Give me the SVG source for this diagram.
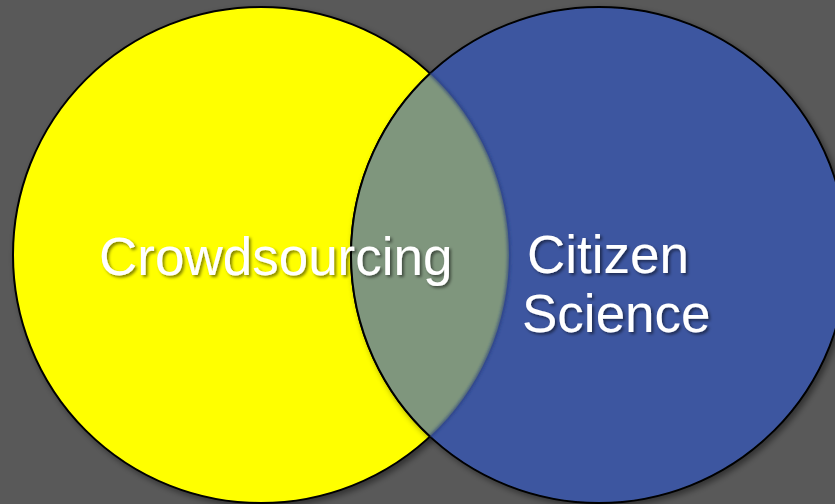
<svg xmlns="http://www.w3.org/2000/svg" width="835" height="504" viewBox="0 0 835 504">
  <defs>
    <filter id="shadow" x="-10%" y="-10%" width="130%" height="130%">
      <feDropShadow dx="3" dy="3" stdDeviation="3" flood-color="#000" flood-opacity="0.45"/>
    </filter>
    <filter id="tshadow" x="-10%" y="-20%" width="120%" height="150%">
      <feDropShadow dx="2" dy="2" stdDeviation="1.5" flood-color="#000" flood-opacity="0.5"/>
    </filter>
    <filter id="soft" x="-10%" y="-10%" width="120%" height="120%">
      <feGaussianBlur stdDeviation="1.5"/>
    </filter>
    <clipPath id="blueClip">
      <circle cx="599" cy="255" r="248"/>
    </clipPath>
    <style>
      .lbl { font-family: "Liberation Sans", Arial, sans-serif; font-size: 53px; fill: #ffffff; }
      .edge { stroke: #000000; stroke-width: 2; }
    </style>
  </defs>
  <rect x="0" y="0" width="835" height="504" fill="#595959"/>
  <g id="crowdsourcing">
    <circle cx="261" cy="255" r="248" fill="#ffff00" class="edge" filter="url(#shadow)"/>
  </g>
  <g id="citizen-science">
    <circle cx="599" cy="255" r="248" fill="#3d57a0" class="edge" filter="url(#shadow)"/>
  </g>
  <g id="overlap">
    <path d="M430 73.5 A248 248 0 0 1 430 436.5 A248 248 0 0 1 430 73.5 Z" fill="#7f967d"/>
    <g clip-path="url(#blueClip)">
      <circle cx="261" cy="255" r="248" fill="none" stroke="#22387a" stroke-width="3" stroke-opacity="0.7" filter="url(#soft)"/>
    </g>
    <path d="M430 436.5 A248 248 0 0 1 430 73.5" fill="none" class="edge"/>
  </g>
  <g id="labels" filter="url(#tshadow)">
    <text class="lbl" x="99" y="275">Crowdsourcing</text>
    <text class="lbl" x="527" y="273">Citizen</text>
    <text class="lbl" x="522" y="332">Science</text>
  </g>
</svg>
